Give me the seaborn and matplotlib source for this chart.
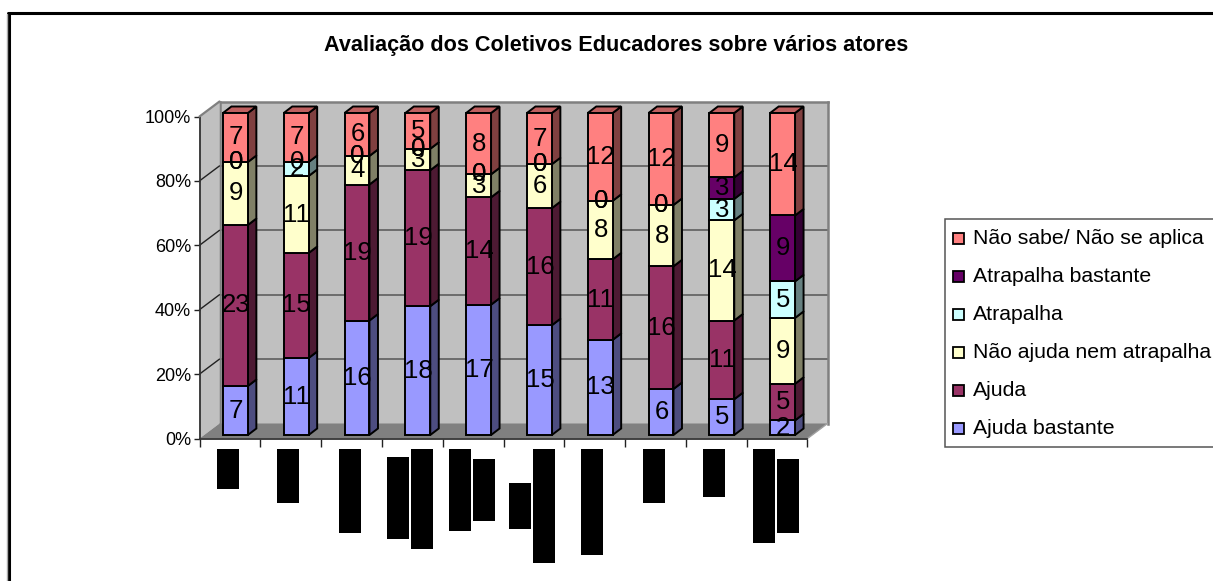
import numpy as np
import pandas as pd
import matplotlib
matplotlib.use("Agg")
import matplotlib.pyplot as plt
from matplotlib.patches import Polygon, Rectangle
from matplotlib.lines import Line2D
from matplotlib.transforms import Affine2D
import seaborn as sns

# ---------- data ----------
title = "Avaliação dos Coletivos Educadores sobre vários atores"
atores = ["1", "2", "3", "4", "5", "6", "7", "8", "9", "10"]   # names are blacked out in the source
ajuda_bastante = [7, 11, 16, 18, 17, 15, 13, 6, 5, 2]
ajuda = [23, 15, 19, 19, 14, 16, 11, 16, 11, 5]
nao_ajuda = [9, 11, 4, 3, 3, 6, 8, 8, 14, 9]
atrapalha = [0, 2, 0, 0, 0, 0, 0, 0, 3, 5]
atrapalha_bastante = [0, 0, 0, 0, 0, 0, 0, 0, 3, 9]
nao_sabe = [7, 7, 6, 5, 8, 7, 12, 12, 9, 14]
series_names = ["Ajuda bastante", "Ajuda", "Não ajuda nem atrapalha", "Atrapalha",
                "Atrapalha bastante", "Não sabe/ Não se aplica"]
series_values = [ajuda_bastante, ajuda, nao_ajuda, atrapalha, atrapalha_bastante, nao_sabe]
series_colors = ["#9999FF", "#993366", "#FFFFCC", "#CCFFFF", "#660066", "#FF8080"]
pct_ticks = [0, 20, 40, 60, 80, 100]

# ---------- page ----------
W, H = 1213, 581
sns.set_theme(style="white")
plt.rcParams["font.family"] = ["Liberation Sans", "DejaVu Sans"]
fig = plt.figure(figsize=(W / 100, H / 100), dpi=100, facecolor="white")
pix = Affine2D().scale(1, -1).translate(0, H)


def axes_px(x0, x1, y_bottom, y_top, **kw):
    return fig.add_axes([x0 / W, 1 - y_bottom / H, (x1 - x0) / W, (y_bottom - y_top) / H], **kw)


# plot-plane geometry (pixels)
FX0, FX1, FY0, FY1 = 199.5, 807.5, 438.5, 116.5   # front plane of the 3-D box
BACK = (20, -15)                                   # offset of the back wall
BAR = (5.5, -3.5)                                  # offset of the bar front faces
DEPTH = (8.5, -6.5)                                # depth of each bar

# back wall with gridlines
ax_back = axes_px(FX0 + BACK[0], FX1 + BACK[0], FY0 + BACK[1], FY1 + BACK[1])
ax_back.set_facecolor("#C0C0C0")
ax_back.set_xlim(-0.5, 9.5)
ax_back.set_ylim(0, 100)
ax_back.set_xticks([])
ax_back.set_yticks(pct_ticks[1:-1])
ax_back.set_yticklabels([])
ax_back.tick_params(length=0)
ax_back.grid(axis="y", color="#555555", lw=1.1)
for s in ax_back.spines.values():
    s.set_color("#808080")
    s.set_linewidth(1.8)
ax_back.spines["bottom"].set_visible(False)

# front plane: real axis with ticks, walls and floor
ax = axes_px(FX0, FX1, FY0, FY1)
ax.patch.set_alpha(0)
ax.set_xlim(-0.5, 9.5)
ax.set_ylim(0, 100)
ax.set_yticks(pct_ticks)
ax.set_yticklabels([f"{t}%" for t in pct_ticks], fontsize=13, color="black")
ax.set_xticks(np.arange(-0.5, 10, 1))
ax.set_xticklabels([])
ax.tick_params(axis="both", direction="out", length=5.5, width=1, color="#222222", pad=2, left=True, bottom=True)
ax.tick_params(axis="y", length=4, pad=2)
for name, s in ax.spines.items():
    s.set_visible(name in ("left", "bottom"))
    s.set_color("#333333")
    s.set_linewidth(1.3)

# left wall
ax.add_patch(Polygon([(FX0, FY0), (FX0, FY1), (FX0 + BACK[0], FY1 + BACK[1]), (FX0 + BACK[0], FY0 + BACK[1])],
                     closed=True, fc="#C0C0C0", ec="none", transform=pix, clip_on=False, zorder=0))
fig.add_artist(Line2D([FX0, FX0 + BACK[0]], [FY1, FY1 + BACK[1]], transform=pix, color="#808080", lw=1.6))
for t in pct_ticks[1:-1]:
    yy = FY0 + (FY1 - FY0) * t / 100
    ax.add_line(Line2D([FX0, FX0 + BACK[0]], [yy, yy + BACK[1]], transform=pix, color="#222222", lw=1, clip_on=False, zorder=1))
# floor
ax.add_patch(Polygon([(FX0, FY0), (FX0 + BACK[0], FY0 + BACK[1]), (FX1 + BACK[0], FY0 + BACK[1]), (FX1, FY0)],
                     closed=True, fc="#808080", ec="none", transform=pix, clip_on=False, zorder=1))
ax.add_line(Line2D([FX1, FX1 + BACK[0]], [FY0, FY0 + BACK[1]], transform=pix, color="#A0A0A0", lw=1, clip_on=False, zorder=1))

# bars
ax_bars = axes_px(FX0 + BAR[0], FX1 + BAR[0], FY0 + BAR[1], FY1 + BAR[1])
ax_bars.patch.set_alpha(0)
counts = np.array(series_values, dtype=float)
totals = counts.sum(axis=0)
pct = counts / totals * 100
df = pd.DataFrame(pct.T, columns=series_names)
df.insert(0, "ator", atores)

BAR_W = 0.41
ddx = DEPTH[0] / ((FX1 - FX0) / 10)
ddy = -DEPTH[1] / ((FY0 - FY1) / 100)


def shade(color, f):
    r, g, b = matplotlib.colors.to_rgb(color)
    return (r * f, g * f, b * f)


bottom = np.zeros(len(atores))
for name, color, column in zip(series_names, series_colors, pct):
    sns.barplot(data=df, x="ator", y=name, bottom=bottom, color=color, saturation=1, width=BAR_W,
                edgecolor="black", linewidth=1.4, ax=ax_bars, zorder=3, clip_on=False)
    for i, (b, h) in enumerate(zip(bottom, column)):
        if h <= 0:
            continue
        xr = i + BAR_W / 2
        ax_bars.add_patch(Polygon([(xr, b), (xr + ddx, b + ddy), (xr + ddx, b + h + ddy), (xr, b + h)], closed=True,
                                  fc=shade(color, 0.5), ec="black", lw=1.4, clip_on=False, zorder=2.5))
    bottom = bottom + column
for i in range(len(atores)):
    xl, xr = i - BAR_W / 2, i + BAR_W / 2
    ax_bars.add_patch(Polygon([(xl, 100), (xl + ddx, 100 + ddy), (xr + ddx, 100 + ddy), (xr, 100)], closed=True,
                              fc=shade(series_colors[-1], 0.75), ec="black", lw=1.4, clip_on=False, zorder=2.5))

# data labels
bottom = np.zeros(len(atores))
for column, raw in zip(pct, counts):
    for i, (b, h, v) in enumerate(zip(bottom, column, raw)):
        ax_bars.text(i + 0.01, b + h / 2, f"{int(v)}", ha="center", va="center", fontsize=18.5,
                     color="black", zorder=5, clip_on=False)
    bottom = bottom + column
ax_bars.set_xlim(-0.5, 9.5)
ax_bars.set_ylim(0, 100)
ax_bars.axis("off")

# title
fig.text(616.5 / W, 1 - 45 / H, title, ha="center", va="center", fontsize=15.6, fontweight="bold", color="black")

# blacked-out category labels in the source image: (x0, x1, y0, y1) in pixels
redactions = [(217, 239, 449, 489), (277, 299, 449, 503), (339, 361, 449, 533), (387, 409, 457, 539),
              (411, 433, 449, 549), (449, 471, 449, 531), (473, 495, 459, 521), (509, 531, 483, 529),
              (533, 555, 449, 563), (581, 603, 449, 555), (643, 665, 449, 503), (703, 725, 449, 497),
              (753, 775, 449, 543), (777, 799, 459, 533)]
for x0, x1, y0, y1 in redactions:
    fig.add_artist(Rectangle((x0, y0), x1 - x0, y1 - y0, fc="black", ec="none", transform=pix))

# legend box (runs off the right page edge)
fig.add_artist(Rectangle((944.5, 218.5), 320, 228, fc="white", ec="#555555", lw=1.1, transform=pix))
leg_rows = list(zip(series_names, series_colors))[::-1]
for k, (name, color) in enumerate(leg_rows):
    yc = 238.5 + k * 37.9
    fig.add_artist(Rectangle((953, yc - 5.5), 11, 11, fc=color, ec="black", lw=1.3, transform=pix))
    fig.text(973 / W, 1 - yc / H, name, ha="left", va="center", fontsize=15.3, color="black")

# outer frame (runs off right and bottom edges)
fig.add_artist(Line2D([8.5, 8.5], [H + 5, 13], transform=pix, color="black", lw=2.2))
fig.add_artist(Line2D([7.5, W + 5], [13, 13], transform=pix, color="black", lw=2.2))
fig.add_artist(Line2D([7, 7], [H + 5, 14], transform=pix, color="#AAAAAA", lw=1))

fig.savefig("out.png", dpi=100, facecolor="white")
